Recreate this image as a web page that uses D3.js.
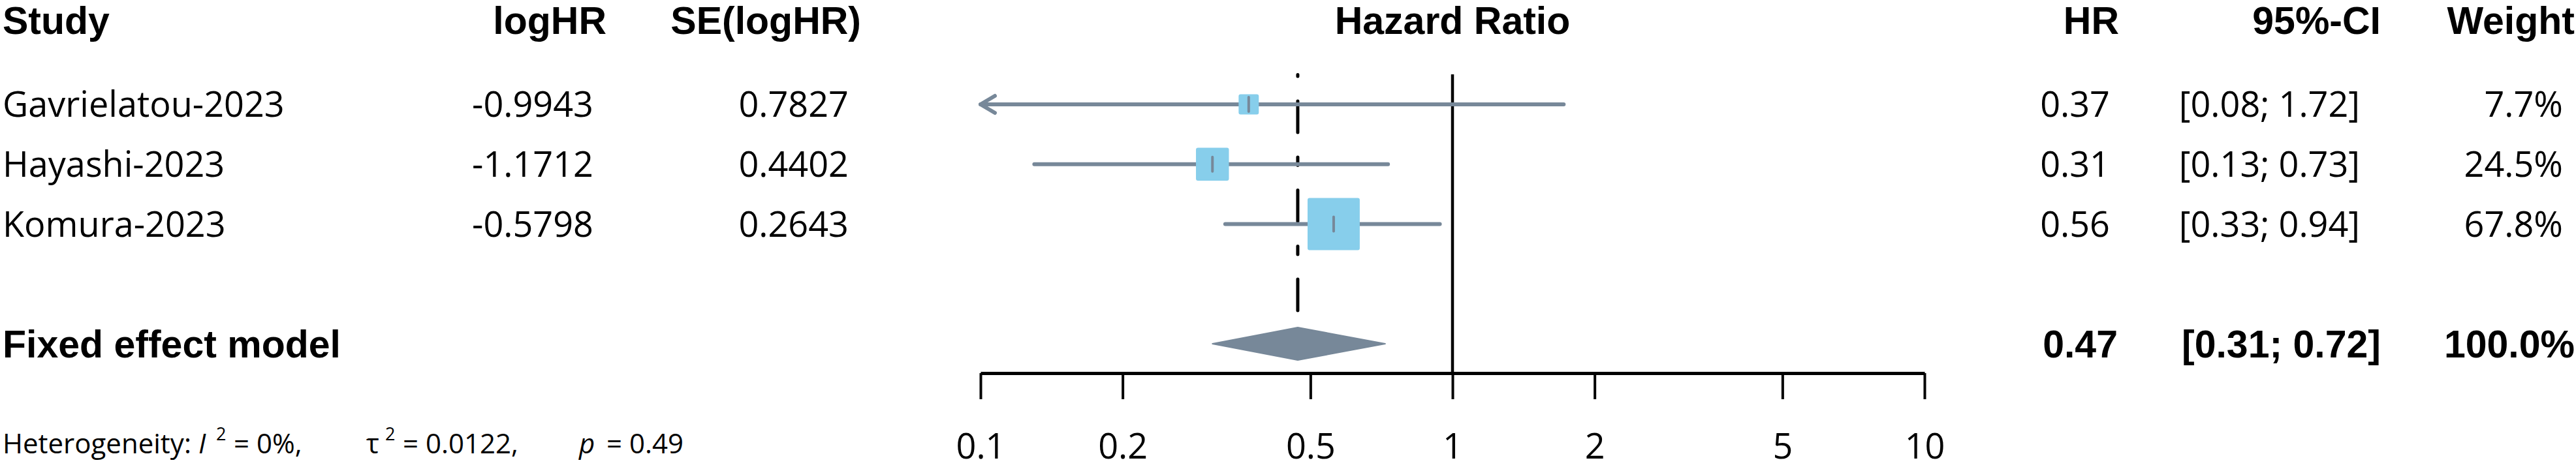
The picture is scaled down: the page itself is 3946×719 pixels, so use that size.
<!DOCTYPE html>
<html>
<head>
<meta charset="utf-8">
<script src="https://cdn.jsdelivr.net/npm/d3@7"></script>
<style>
  body { margin: 0; background: #fff; }
  text { fill: #000; }
  .reg { font-family: "Open Sans", sans-serif; font-size: 54px; }
  .bold { font-family: "Liberation Sans", Arial, sans-serif; font-weight: bold; font-size: 59px; }
</style>
</head>
<body>
<svg id="chart" width="3946" height="719"></svg>
<script>
// study level data
const studies = ["Gavrielatou-2023", "Hayashi-2023", "Komura-2023"];
const logHR = [-0.9943, -1.1712, -0.5798];
const seLogHR = [0.7827, 0.4402, 0.2643];
const hr = [0.37, 0.31, 0.56];
const ciLow = [0.08, 0.13, 0.33];
const ciHigh = [1.72, 0.73, 0.94];
const weight = [7.7, 24.5, 67.8];

// pooled (fixed effect)
const pooledLabel = "Fixed effect model";
const pooledHR = 0.47;
const pooledCI = [0.31, 0.72];
const pooledWeight = 100.0;

const tickValues = [0.1, 0.2, 0.5, 1, 2, 5, 10];
const hetI2 = "0%";
const hetTau2 = "0.0122";
const hetP = "0.49";

const gray = "#778899";
const blue = "#87CEEB";

const svg = d3.select("#chart");

const x = d3.scaleLog().domain([0.1, 10]).range([1502, 2948]);
const y = d3.scaleLinear().domain([0, 4]).range([160, 527]);
const boxSize = d3.scaleSqrt().domain([0, 100]).range([0, 89.8]);
// plain hyphen for negatives, like the original
const f2 = v => v.toFixed(2), f4 = v => v.toFixed(4);

const rows = studies.map((s, i) => ({
  name: s, loghr: logHR[i], se: seLogHR[i], hr: hr[i],
  lo: ciLow[i], hi: ciHigh[i], w: weight[i], row: i
}));

// headers
const head = svg.append("g").attr("class", "bold");
head.append("text").attr("x", 4).attr("y", 52).text("Study");
head.append("text").attr("x", 929).attr("y", 52).attr("text-anchor", "end").text("logHR");
head.append("text").attr("x", 1319).attr("y", 52).attr("text-anchor", "end").text("SE(logHR)");
head.append("text").attr("x", x(1)).attr("y", 52).attr("text-anchor", "middle").text("Hazard Ratio");
head.append("text").attr("x", 3246).attr("y", 52).attr("text-anchor", "end").text("HR");
head.append("text").attr("x", 3647).attr("y", 52).attr("text-anchor", "end").text("95%-CI");
head.append("text").attr("x", 3944).attr("y", 52).attr("text-anchor", "end").text("Weight");

// study text columns
const cols = [
  {x: 4, anchor: "start", f: d => d.name},
  {x: 909, anchor: "end", f: d => f4(d.loghr)},
  {x: 1300, anchor: "end", f: d => f4(d.se)},
  {x: 3232, anchor: "end", f: d => f2(d.hr)},
  {x: 3615, anchor: "end", f: d => "[" + f2(d.lo) + "; " + f2(d.hi) + "]"},
  {x: 3926, anchor: "end", f: d => d.w.toFixed(1) + "%"}
];
cols.forEach(c => {
  svg.append("g").attr("class", "reg")
    .selectAll("text").data(rows).enter().append("text")
    .attr("x", c.x).attr("y", d => y(d.row) + 19)
    .attr("text-anchor", c.anchor)
    .text(c.f);
});

// pooled row text
const pg = svg.append("g").attr("class", "bold");
pg.append("text").attr("x", 4).attr("y", y(4) + 21).text(pooledLabel);
pg.append("text").attr("x", 3244).attr("y", y(4) + 21).attr("text-anchor", "end").text(f2(pooledHR));
pg.append("text").attr("x", 3647).attr("y", y(4) + 21).attr("text-anchor", "end")
  .text("[" + f2(pooledCI[0]) + "; " + f2(pooledCI[1]) + "]");
pg.append("text").attr("x", 3944).attr("y", y(4) + 21).attr("text-anchor", "end")
  .text(pooledWeight.toFixed(1) + "%");

// heterogeneity line
const het = svg.append("g").attr("font-family", "Open Sans, sans-serif").attr("font-size", 42);
const hetParts = [
  {t: "Heterogeneity:", x: 4},
  {t: "I", x: 304, italic: true},
  {t: "2", x: 331, sup: true},
  {t: "= " + hetI2 + ",", x: 358},
  {t: "τ", x: 561},
  {t: "2", x: 590, sup: true},
  {t: "= " + hetTau2 + ",", x: 617},
  {t: "p", x: 887, italic: true},
  {t: "= " + hetP, x: 929}
];
het.selectAll("text").data(hetParts).enter().append("text")
  .attr("x", d => d.x).attr("y", d => d.sup ? 675 : 695)
  .attr("font-size", d => d.sup ? 27 : null)
  .attr("font-style", d => d.italic ? "italic" : null)
  .text(d => d.t);

// reference lines
svg.append("line")
  .attr("x1", x(pooledHR)).attr("x2", x(pooledHR))
  .attr("y1", 476).attr("y2", 114.5)
  .attr("stroke", "#000").attr("stroke-width", 5)
  .attr("stroke-linecap", "round")
  .attr("stroke-dasharray", "48 38 12.5 38");
svg.append("line")
  .attr("x1", x(1)).attr("x2", x(1))
  .attr("y1", 114).attr("y2", 572)
  .attr("stroke", "#000").attr("stroke-width", 4.5);

// confidence intervals
const ci = svg.append("g");
ci.selectAll("line.ci").data(rows).enter().append("line")
  .attr("class", "ci")
  .attr("x1", d => x(Math.max(d.lo, 0.1))).attr("x2", d => x(Math.min(d.hi, 10)))
  .attr("y1", d => y(d.row)).attr("y2", d => y(d.row))
  .attr("stroke", gray).attr("stroke-width", 6).attr("stroke-linecap", "round");
ci.selectAll("path.arrow").data(rows.filter(d => d.lo < 0.1)).enter().append("path")
  .attr("class", "arrow")
  .attr("d", d => `M${x(0.1) + 22},${y(d.row) - 13}L${x(0.1)},${y(d.row)}L${x(0.1) + 22},${y(d.row) + 13}`)
  .attr("fill", "none").attr("stroke", gray).attr("stroke-width", 6)
  .attr("stroke-linecap", "round").attr("stroke-linejoin", "round");

// weight squares (area ~ weight), drawn with a border of the same colour
ci.selectAll("rect.box").data(rows).enter().append("rect")
  .attr("class", "box")
  .attr("x", d => x(d.hr) - boxSize(d.w) / 2)
  .attr("y", d => y(d.row) - boxSize(d.w) / 2)
  .attr("width", d => boxSize(d.w))
  .attr("height", d => boxSize(d.w))
  .attr("fill", blue).attr("stroke", blue).attr("stroke-width", 6)
  .attr("stroke-linejoin", "round");
ci.selectAll("line.est").data(rows).enter().append("line")
  .attr("class", "est")
  .attr("x1", d => x(d.hr)).attr("x2", d => x(d.hr))
  .attr("y1", d => y(d.row) - 11).attr("y2", d => y(d.row) + 11)
  .attr("stroke", gray).attr("stroke-width", 4).attr("stroke-linecap", "round");

// pooled diamond
const py = y(4);
svg.append("path")
  .attr("d", `M${x(pooledCI[0])},${py}L${x(pooledHR)},${py - 25}L${x(pooledCI[1])},${py}L${x(pooledHR)},${py + 25}Z`)
  .attr("fill", gray).attr("stroke", gray).attr("stroke-width", 2).attr("stroke-linejoin", "round");

// axis
const axis = svg.append("g").attr("transform", "translate(0,572)")
  .call(d3.axisBottom(x).tickValues(tickValues).tickSize(40).tickSizeOuter(0).tickFormat(d => String(d)));
axis.select(".domain").attr("stroke-width", 5).attr("stroke", "#000");
axis.selectAll(".tick line").attr("stroke-width", 4).attr("stroke", "#000");
axis.selectAll(".tick text")
  .attr("font-family", "Open Sans, sans-serif").attr("font-size", 54)
  .attr("y", 131).attr("dy", null).attr("fill", "#000");
</script>
</body>
</html>
